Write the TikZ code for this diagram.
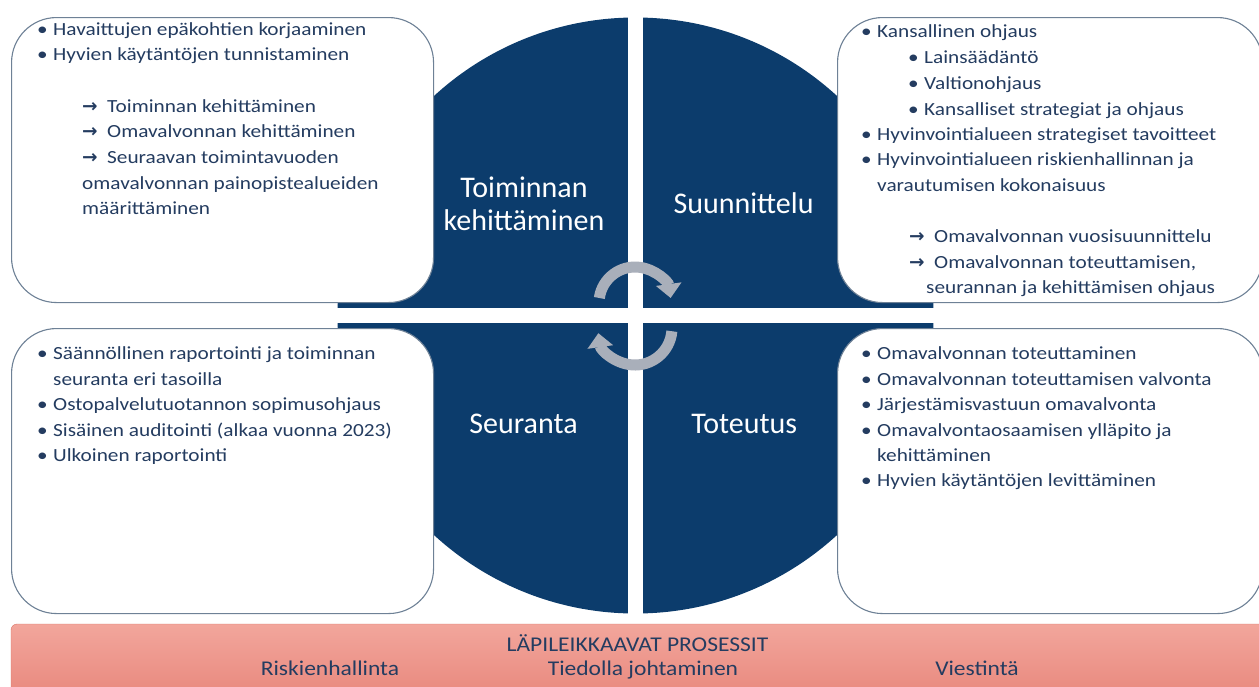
\documentclass[tikz,border=0pt]{standalone}
\usepackage{fontspec}
\setmainfont{Carlito}
\newfontfamily\bodyfont[FakeStretch=1.15]{Carlito}
\newfontfamily\bandfont[FakeStretch=1.12]{Carlito}
\newfontfamily\arrowfont{DejaVu Sans}
\usetikzlibrary{arrows.meta}
\definecolor{navy}{HTML}{0C3C6C}
\definecolor{txtblue}{HTML}{243C60}
\definecolor{boxline}{HTML}{6E8196}
\definecolor{cyclegray}{HTML}{A9AFBA}
\definecolor{bandtop}{HTML}{F2A69C}
\definecolor{bandbot}{HTML}{E8877C}
\definecolor{bandline}{HTML}{DA7566}
\newcommand{\bul}{\makebox[16pt][l]{\textbullet}}
\newcommand{\arr}{\makebox[25pt][l]{\arrowfont\bfseries\char"2192}}
\tikzset{
    infobox/.style={draw=boxline,line width=1.1pt,fill=white,rounded corners=45pt,anchor=north west,minimum height=285pt},
    item/.style={anchor=base west,inner sep=0pt,text=txtblue,font=\bodyfont\fontsize{18.5}{22}\selectfont},
    phase/.style={text=white,inner sep=0pt,align=center,font=\fontsize{30}{33}\selectfont},
    cycle/.style={cyclegray,line width=11pt,-{Triangle[width=25pt,length=14pt]}},
    bandtext/.style={anchor=base,inner sep=0pt,text=txtblue,font=\bandfont\fontsize{21}{26}\selectfont}
}
\begin{document}
\begin{tikzpicture}[x=1pt,y=-1pt]
    \useasboundingbox (0,0) rectangle (1259,686);
    \clip (0,0) rectangle (1259,686);
    \fill[navy] (635.5,315.5) circle[radius=298];
    \fill[white] (628,10) rectangle (643,620);
    \fill[white] (330,308) rectangle (941,323);
    \node[infobox,minimum width=422pt] (tlbox) at (11,17) {};
    \node[infobox,minimum width=425pt] (trbox) at (837,17) {};
    \node[infobox,minimum width=422pt] (blbox) at (11,328) {};
    \node[infobox,minimum width=425pt] (brbox) at (837,328) {};
    \draw[cycle] (635,303) ++(188:36) arc[start angle=188,end angle=352,radius=36];
    \draw[cycle] (635,328) ++(5:37) arc[start angle=5,end angle=172,radius=37];
    \node[phase] (develop) at (524,204) {Toiminnan\\kehittäminen};
    \node[phase,anchor=base] (plan) at (743.6,213.3) {Suunnittelu};
    \node[phase,anchor=base] (follow) at (523.5,433.3) {Seuranta};
    \node[phase,anchor=base] (execute) at (744.2,433.3) {Toteutus};
    \foreach \y/\x/\t [count=\i] in {35/37/{\bul Havaittujen epäkohtien korjaaminen},
        60.5/37/{\bul Hyvien käytäntöjen tunnistaminen},
        112/82/{\arr Toiminnan kehittäminen},
        137.7/82/{\arr Omavalvonnan kehittäminen},
        163.3/82/{\arr Seuraavan toimintavuoden},
        189/82/{omavalvonnan painopistealueiden},
        214.3/82/{määrittäminen}}
        \node[item] (tl\i) at (\x,\y) {\t};
    \foreach \y/\x/\t [count=\i] in {37.7/861/{\bul Kansallinen ohjaus},
        63.3/908/{\bul Lainsäädäntö},
        89/908/{\bul Valtionohjaus},
        115/908/{\bul Kansalliset strategiat ja ohjaus},
        140/861/{\bul Hyvinvointialueen strategiset tavoitteet},
        165.7/861/{\bul Hyvinvointialueen riskienhallinnan ja},
        191.3/877/{varautumisen kokonaisuus},
        242.7/909/{\arr Omavalvonnan vuosisuunnittelu},
        268.3/909/{\arr Omavalvonnan toteuttamisen,},
        293.3/926/{seurannan ja kehittämisen ohjaus}}
        \node[item] (tr\i) at (\x,\y) {\t};
    \foreach \y/\x/\t [count=\i] in {359.3/37/{\bul Säännöllinen raportointi ja toiminnan},
        385/53/{seuranta eri tasoilla},
        410.7/37/{\bul Ostopalvelutuotannon sopimusohjaus},
        436/37/{\bul Sisäinen auditointi (alkaa vuonna 2023)},
        461.7/37/{\bul Ulkoinen raportointi}}
        \node[item] (bl\i) at (\x,\y) {\t};
    \foreach \y/\x/\t [count=\i] in {359.3/861/{\bul Omavalvonnan toteuttaminen},
        385/861/{\bul Omavalvonnan toteuttamisen valvonta},
        410.7/861/{\bul Järjestämisvastuun omavalvonta},
        436/861/{\bul Omavalvontaosaamisen ylläpito ja},
        461.7/877/{kehittäminen},
        486.7/861/{\bul Hyvien käytäntöjen levittäminen}}
        \node[item] (br\i) at (\x,\y) {\t};
    \draw[bandline,top color=bandtop,bottom color=bandbot,rounded corners=6pt] (11,624) rectangle (1275,700);
    \node[bandtext] (cross) at (637.5,651.7) {LÄPILEIKKAAVAT PROSESSIT};
    \node[bandtext] (risk) at (330,675) {Riskienhallinta};
    \node[bandtext] (data) at (643,675) {Tiedolla johtaminen};
    \node[bandtext] (comm) at (977,675) {Viestintä};
\end{tikzpicture}
\end{document}
